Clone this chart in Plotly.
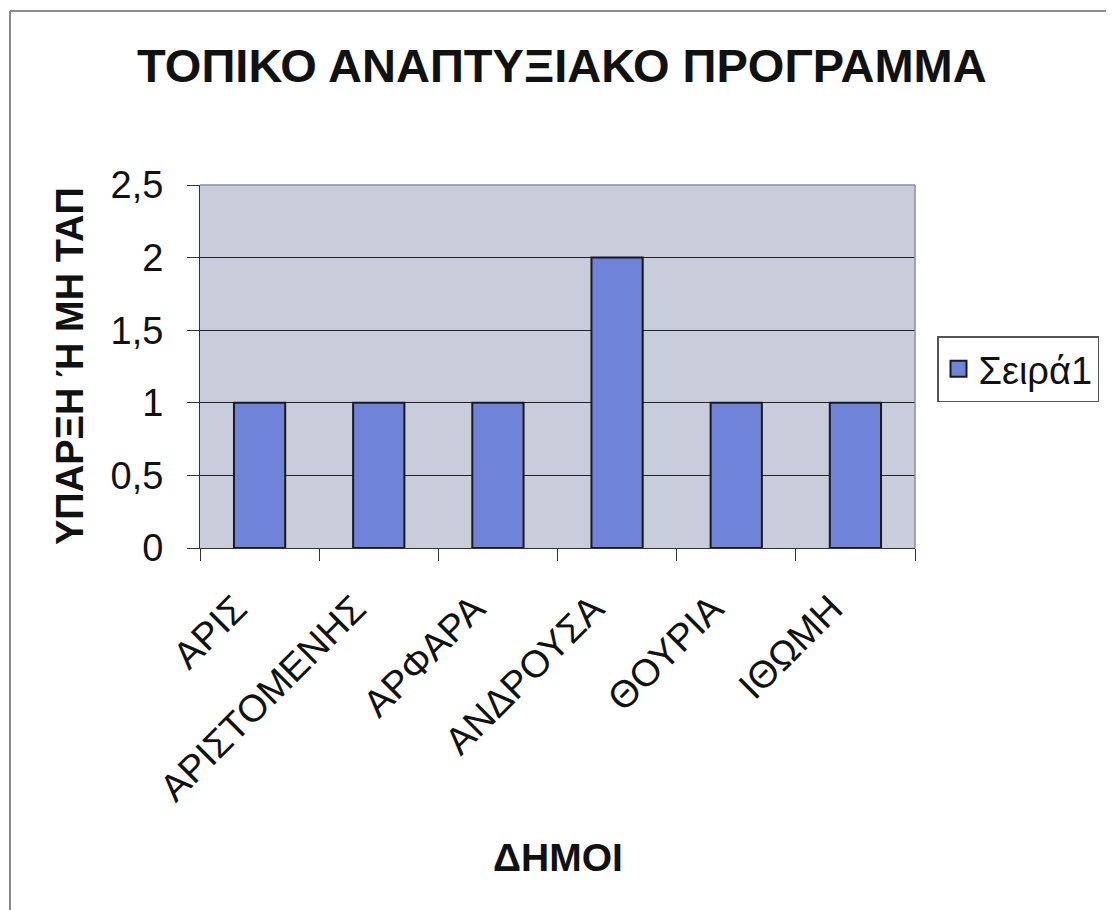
import plotly.graph_objects as go

categories = ["ΑΡΙΣ", "ΑΡΙΣΤΟΜΕΝΗΣ", "ΑΡΦΑΡΑ", "ΑΝΔΡΟΥΣΑ", "ΘΟΥΡΙΑ", "ΙΘΩΜΗ"]
values = [1, 1, 1, 2, 1, 1]
series_name = "Σειρά1"
y_ticks = [0, 0.5, 1, 1.5, 2, 2.5]

# page body has an 8px margin; work in screen coordinates and convert
OFF = 8
W, H = 1114 - OFF, 910 - OFF
PL, PR, PT, PB = 200, 915, 185, 548  # plot area in screen px
L, R, T = PL - OFF, W - (PR - OFF), PT - OFF
B = H - (PB - OFF)
pw, ph = W - L - R, H - T - B

def px(x):
    return (x - OFF - L) / pw

def py(y):
    return (H - B - (y - OFF)) / ph

FONT = "Liberation Sans, Arial, sans-serif"
BAR_COLOR = "#6f84d8"
EDGE = "#1a1a1a"

fig = go.Figure()
fig.add_trace(go.Bar(
    x=categories, y=values, name=series_name,
    marker=dict(color=BAR_COLOR, line=dict(color=EDGE, width=2)),
    showlegend=False, legendgroup="s1",
))
# legend entry with a larger square swatch (no data drawn)
fig.add_trace(go.Scatter(
    x=[None], y=[None], mode="markers", name=series_name, legendgroup="s1",
    marker=dict(symbol="square", size=20, color=BAR_COLOR, line=dict(color=EDGE, width=2)),
    showlegend=True,
))

fig.update_layout(
    width=W, height=H,
    margin=dict(l=L, r=R, t=T, b=B, autoexpand=False),
    paper_bgcolor="white",
    plot_bgcolor="#c9ccdb",
    separators=",.",
    bargap=0.57,
    font=dict(family=FONT, color="#111111"),
    legend=dict(x=px(937), y=py(336), xanchor="left", yanchor="top",
                bordercolor="#555555", borderwidth=1.5, bgcolor="white",
                font=dict(size=38, color="#111111"),
                itemsizing="trace", itemwidth=30),
    xaxis=dict(
        type="category",
        tickson="boundaries",
        ticks="outside", ticklen=12, tickcolor="#333333", tickwidth=1,
        tickangle=-45,
        ticklabelstandoff=22, ticklabelshift=-24,
        tickfont=dict(size=38, color="#111111"),
        showline=True, linecolor="#333333", linewidth=1,
        showgrid=False,
    ),
    yaxis=dict(
        range=[0, 2.5],
        tickvals=y_ticks,
        ticks="outside", ticklen=12, tickcolor="#333333", tickwidth=1,
        ticklabelstandoff=16,
        tickfont=dict(size=38, color="#111111"),
        showline=True, linecolor="#333333", linewidth=1,
        showgrid=True, gridcolor="#222222", gridwidth=1,
        zeroline=False,
    ),
)

# Title and axis titles
fig.add_annotation(text="<b>ΤΟΠΙΚΟ ΑΝΑΠΤΥΞΙΑΚΟ ΠΡΟΓΡΑΜΜΑ</b>", xref="paper", yref="paper",
                   x=px(562), y=py(66), xanchor="center", yanchor="middle", showarrow=False,
                   font=dict(size=47, color="#111111", family=FONT))
fig.add_annotation(text="<b>ΔΗΜΟΙ</b>", xref="paper", yref="paper",
                   x=px(558), y=py(857), xanchor="center", yanchor="middle", showarrow=False,
                   font=dict(size=39, color="#111111", family=FONT))
fig.add_annotation(text="<b>ΥΠΑΡΞΗ Ή ΜΗ ΤΑΠ</b>", xref="paper", yref="paper",
                   x=px(70), y=py(366), xanchor="center", yanchor="middle", showarrow=False,
                   textangle=-90,
                   font=dict(size=38, color="#111111", family=FONT))

# Plot area right/top border
fig.add_shape(type="line", xref="paper", yref="paper", x0=1, x1=1, y0=0, y1=1,
              line=dict(color="#8a8ca0", width=1.5))
fig.add_shape(type="line", xref="paper", yref="paper", x0=0, x1=1, y0=1, y1=1,
              line=dict(color="#8a8ca0", width=1.5))
# Outer chart frame (top and left edges visible)
fig.add_shape(type="line", xref="paper", yref="paper", x0=px(10), x1=px(1120), y0=py(11), y1=py(11),
              line=dict(color="#8c8c8c", width=2))
fig.add_shape(type="line", xref="paper", yref="paper", x0=px(10), x1=px(10), y0=py(11), y1=py(915),
              line=dict(color="#8c8c8c", width=2))

fig.write_html("out.html")
